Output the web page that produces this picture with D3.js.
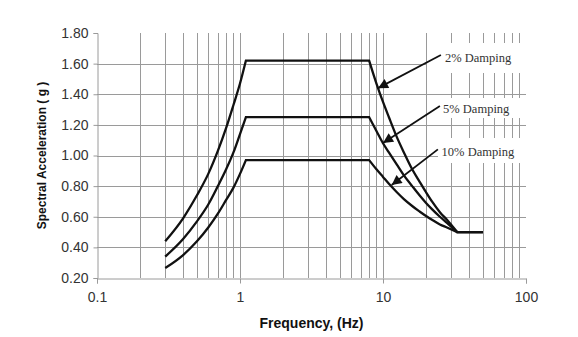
<!DOCTYPE html>
<html>
<head>
<meta charset="utf-8">
<script src="https://cdn.jsdelivr.net/npm/d3@7"></script>
<style>
  html, body { margin: 0; padding: 0; background: #fff; }
  svg { display: block; }
</style>
</head>
<body>
<svg id="chart" width="578" height="337"></svg>
<script>
// Design response spectra for three damping ratios
const seriesNames = ["2% Damping", "5% Damping", "10% Damping"];
const freqHz   = [0.3, 0.4, 0.5, 0.6, 0.7, 0.8, 0.9, 1.0, 1.1, 8, 9, 10, 11, 12.5, 14, 16, 18, 20, 22, 25, 28, 33, 50];
const damp2pct = [0.44, 0.59, 0.74, 0.88, 1.03, 1.18, 1.33, 1.47, 1.62, 1.62, 1.47, 1.35, 1.25, 1.12, 1.02, 0.91, 0.83, 0.76, 0.70, 0.63, 0.58, 0.50, 0.50];
const damp5pct = [0.34, 0.455, 0.57, 0.68, 0.80, 0.91, 1.02, 1.14, 1.25, 1.25, 1.16, 1.08, 1.02, 0.94, 0.87, 0.80, 0.74, 0.69, 0.65, 0.60, 0.56, 0.50, 0.50];
const damp10pct = [0.265, 0.35, 0.44, 0.53, 0.62, 0.71, 0.79, 0.88, 0.97, 0.97, 0.91, 0.86, 0.815, 0.76, 0.715, 0.67, 0.635, 0.605, 0.58, 0.55, 0.53, 0.50, 0.50];
// Corner points of each spectrum (indices into freqHz): smooth between, sharp at
const cornerIdx = [0, 8, 9, 21, 22];

// Axis ranges and tick labels
const xDomain = [0.1, 100];
const yDomain = [0.2, 1.8];
const yTicks = [0.2, 0.4, 0.6, 0.8, 1.0, 1.2, 1.4, 1.6, 1.8];
const xMajorTicks = [0.1, 1, 10, 100];

// Callout arrows: [frequency, value] of tail and head
const arrowTail = [[25.4, 1.656], [25.0, 1.323], [24.2, 1.04]];
const arrowHead = [[9.23, 1.44], [10.0, 1.082], [11.5, 0.807]];
const labelAnchor = [[27.1, 1.61], [26.3, 1.28], [25.7, 1.00]];

const svg = d3.select("#chart");
const margin = { left: 97, top: 33, right: 52, bottom: 59 };
const W = 578 - margin.left - margin.right;
const H = 337 - margin.top - margin.bottom;

const x = d3.scaleLog().domain(xDomain).range([margin.left, margin.left + W]);
const y = d3.scaleLinear().domain(yDomain).range([margin.top + H, margin.top]);
const px = v => Math.round(v) + 0.5;

const gridColor = "#9a9a9a";
const g = svg.append("g");

// Vertical gridlines at every log tick inside the range
const vTicks = x.ticks().filter(t => t > xDomain[0] * 1.001 && t < xDomain[1] * 0.999);
g.selectAll("line.vgrid").data(vTicks).join("line")
  .attr("class", "vgrid")
  .attr("x1", d => px(x(d))).attr("x2", d => px(x(d)))
  .attr("y1", y(yDomain[1])).attr("y2", y(yDomain[0]))
  .attr("stroke", gridColor).attr("stroke-width", 1);

// Horizontal gridlines
const hTicks = yTicks.filter(t => t > yDomain[0] + 1e-9 && t < yDomain[1] - 1e-9);
g.selectAll("line.hgrid").data(hTicks).join("line")
  .attr("class", "hgrid")
  .attr("x1", x(xDomain[0])).attr("x2", x(xDomain[1]))
  .attr("y1", d => px(y(d))).attr("y2", d => px(y(d)))
  .attr("stroke", gridColor).attr("stroke-width", 1);

// Label backgrounds hide the grid behind the callout text
const boxes = [
  { x0: 427, x1: 532, y0: 43, y1: 73 },
  { x0: 437, x1: 532, y0: 98, y1: 118 },
  { x0: 438, x1: 532, y0: 138, y1: 163 }
];
g.selectAll("rect.lblbg").data(boxes).join("rect")
  .attr("class", "lblbg")
  .attr("x", d => d.x0).attr("y", d => d.y0)
  .attr("width", d => d.x1 - d.x0).attr("height", d => d.y1 - d.y0)
  .attr("fill", "#fff");

// Axes
const yAxis = d3.axisLeft(y).tickValues(yTicks).tickFormat(d3.format(".2f"))
  .tickSize(4).tickPadding(5);
const yG = svg.append("g").attr("transform", `translate(${px(x(xDomain[0]))},0)`).call(yAxis);

const xAxis = d3.axisBottom(x).tickValues(xMajorTicks).tickFormat(d => String(d))
  .tickSize(5).tickPadding(9);
const xG = svg.append("g").attr("transform", `translate(0,${px(y(yDomain[0]))})`).call(xAxis);

[yG, xG].forEach(a => {
  a.select(".domain").attr("stroke", gridColor);
  a.selectAll(".tick line").attr("stroke", gridColor);
  a.selectAll(".tick text")
    .attr("font-family", "Liberation Sans, Arial, sans-serif")
    .attr("font-size", 14).attr("fill", "#333");
});

// Spectrum curves: each branch smoothed, joined with sharp corners
const branch = d3.line().x(d => x(d[0])).y(d => y(d[1])).curve(d3.curveMonotoneX);
function spectrumPath(vals) {
  const pts = freqHz.map((f, i) => [f, vals[i]]);
  let d = "";
  for (let k = 0; k < cornerIdx.length - 1; k++) {
    const seg = branch(pts.slice(cornerIdx[k], cornerIdx[k + 1] + 1));
    d += k === 0 ? seg : seg.replace(/^M/, "L");
  }
  return d;
}
const series = [damp2pct, damp5pct, damp10pct];
svg.append("g").selectAll("path").data(series).join("path")
  .attr("d", spectrumPath)
  .attr("fill", "none").attr("stroke", "#111").attr("stroke-width", 2.3)
  .attr("stroke-linejoin", "miter");

// Arrowhead marker
svg.append("defs").append("marker")
  .attr("id", "head").attr("viewBox", "0 0 10 10")
  .attr("refX", 10).attr("refY", 5)
  .attr("markerUnits", "userSpaceOnUse")
  .attr("markerWidth", 13).attr("markerHeight", 10)
  .attr("orient", "auto")
  .append("path").attr("d", "M0,0 L10,5 L0,10 Z").attr("fill", "#111");

svg.append("g").selectAll("line").data(seriesNames).join("line")
  .attr("x1", (d, i) => x(arrowTail[i][0])).attr("y1", (d, i) => y(arrowTail[i][1]))
  .attr("x2", (d, i) => x(arrowHead[i][0])).attr("y2", (d, i) => y(arrowHead[i][1]))
  .attr("stroke", "#111").attr("stroke-width", 1.8)
  .attr("marker-end", "url(#head)");

svg.append("g").selectAll("text").data(seriesNames).join("text")
  .attr("x", (d, i) => x(labelAnchor[i][0]))
  .attr("y", (d, i) => y(labelAnchor[i][1]))
  .attr("font-family", "Liberation Serif, Times New Roman, serif")
  .attr("font-size", 12.5).attr("fill", "#333")
  .text(d => d);

// Axis titles
svg.append("text")
  .attr("x", x(Math.sqrt(10))).attr("y", 328)
  .attr("text-anchor", "middle")
  .attr("font-family", "Liberation Sans, Arial, sans-serif")
  .attr("font-size", 14).attr("font-weight", "bold").attr("fill", "#111")
  .text("Frequency, (Hz)");

svg.append("text")
  .attr("transform", `translate(46,${y(1.0)}) rotate(-90)`)
  .attr("text-anchor", "middle")
  .attr("font-family", "Liberation Sans, Arial, sans-serif")
  .attr("font-size", 12).attr("font-weight", "bold").attr("fill", "#111")
  .text("Spectral Acceleration ( g )");
</script>
</body>
</html>
